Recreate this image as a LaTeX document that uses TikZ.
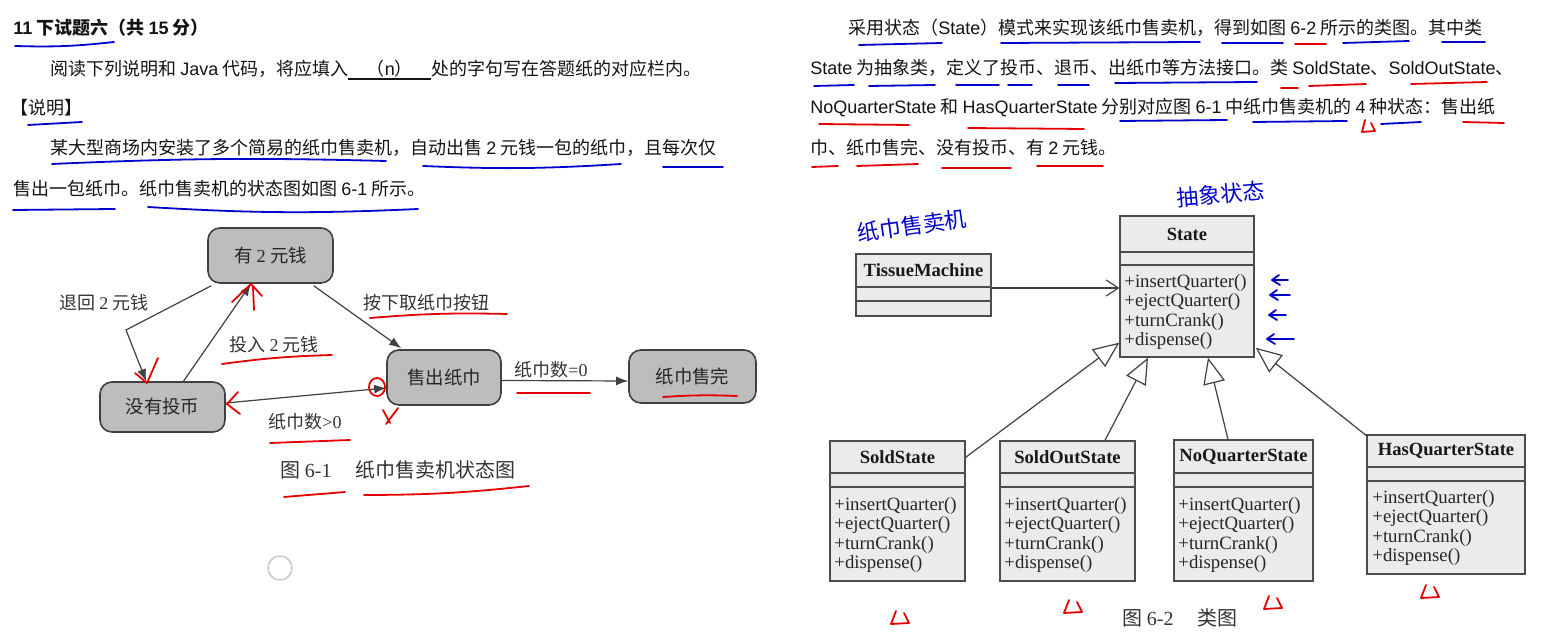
\documentclass[tikz,border=0pt]{standalone}
\usepackage{fontspec}
\setmainfont{Liberation Sans}
\newfontfamily\cjk{Noto Sans CJK SC}
\newfontfamily\lat{Liberation Sans}
\newfontfamily\tnr{Liberation Serif}
\usetikzlibrary{arrows.meta,calc,fit}
\newcommand\methlist[3]{%
  \node[meth] (#1m1) at (#2,#3) {+insertQuarter()};
  \node[meth] (#1m2) at (#2,#3+19.4) {+ejectQuarter()};
  \node[meth] (#1m3) at (#2,#3+38.8) {+turnCrank()};
  \node[meth] (#1m4) at (#2,#3+58.2) {+dispense()};}
\newcommand\umlclass[8]{%
  \node[clsbox, fit={(#2,#3) (#4,#5)}] (#1) {};
  \draw[clsline] (#2,#6) -- (#4,#6) (#2,#7) -- (#4,#7);
  \node[clstitle] (#1T) at ({(#2+#4)/2},{(#3+#6)/2}) {#8};}
\newcommand\redtri[2]{\draw[hred] (#1+5,#2) -- (#1,#2+13) -- (#1+18,#2+12) -- (#1+13,#2+2);}
\newcommand\bluearr[3]{\draw[hblue] (#1+#3,#2) -- (#1,#2) (#1+7,#2-5) -- (#1,#2) -- (#1+8,#2+5);}
\begin{document}
\begin{tikzpicture}[x=0.5pt,y=-0.5pt,
  body/.style={font=\cjk\fontsize{9}{11}\selectfont, anchor=west, inner sep=0pt, text=black!92},
  stbox/.style={draw=black!75, fill=black!26, rounded corners=6pt, line width=0.8pt, inner sep=0pt},
  sttext/.style={font=\cjk\fontsize{9.2}{11}\selectfont, text=black!85, inner sep=0pt},
  stlab/.style={font=\cjk\fontsize{9}{11}\selectfont, inner sep=0pt, text=black!80},
  trans/.style={draw=black!75, line width=0.6pt, -{Latex[length=6pt,width=4.5pt]}},
  clsbox/.style={draw=black!70, fill=black!8, line width=0.7pt, inner sep=0pt},
  clsline/.style={draw=black!70, line width=0.7pt},
  clstitle/.style={font=\tnr\bfseries\fontsize{9.3}{11}\selectfont, inner sep=0pt, text=black!90},
  meth/.style={font=\tnr\fontsize{9.4}{11}\selectfont, anchor=west, inner sep=0pt, text=black!85},
  gen/.style={draw=black!75, line width=0.6pt, -{Triangle[length=13pt,width=11pt,fill=white]}},
  assoc/.style={draw=black!75, line width=0.6pt, -{Straight Barb[length=6pt,width=8pt]}},
  hblue/.style={draw=blue!80!black, line width=0.9pt, line cap=round, line join=round},
  hred/.style={draw=red!90!black, line width=0.9pt, line cap=round, line join=round},
  hand/.style={font=\cjk\fontsize{11}{12}\selectfont, text=blue!80!black, inner sep=0pt}
]
\useasboundingbox[fill=white] (0,0) rectangle (1543,640);

% ---------------- left text ----------------
\node[body, font=\cjk\bfseries\fontsize{9}{11}\selectfont] (title) at (13,28) {{\lat\bfseries 11} 下试题六（共 {\lat\bfseries 15} 分）};
\node[body] (l2) at (50,70) {阅读下列说明和 {\lat Java} 代码，将应填入\rlap{\rule[-2.5pt]{41.5pt}{0.9pt}}\makebox[41.5pt]{（{\lat n}）}处的字句写在答题纸的对应栏内。};
\node[body] (l3) at (10,108) {【说明】};
\node[body] (l4) at (50,148) {某大型商场内安装了多个简易的纸巾售卖机，自动出售 {\lat 2} 元钱一包的纸巾，且每次仅};
\node[body] (l5) at (13,189) {售出一包纸巾。纸巾售卖机的状态图如图 {\lat 6-1} 所示。};

% ---------------- right text ----------------
\node[body] (r1) at (848,28) {采用状态（{\lat State}）模式来实现该纸巾售卖机，得到如图 {\lat 6-2} 所示的类图。其中类};
\node[body] (r2) at (810,68) {{\lat State} 为抽象类，定义了投币、退币、出纸巾等方法接口。类 {\lat SoldState}、{\lat SoldOutState}、};
\node[body] (r3) at (810,108) {{\lat NoQuarterState} 和 {\lat HasQuarterState} 分别对应图 {\lat 6-1} 中纸巾售卖机的 {\lat 4} 种状态：售出纸};
\node[body] (r4) at (810,148) {巾、纸巾售完、没有投币、有 {\lat 2} 元钱。};

% ---------------- state diagram ----------------
\node[stbox, fit={(208,228) (333,283)}] (has) {};
\node[stbox, fit={(100,382) (225,432)}] (noq) {};
\node[stbox, fit={(387,350) (501,405)}] (sold) {};
\node[stbox, fit={(629,350) (756,403)}] (out) {};
\node[sttext] (hasT) at (has.center) {有 {\tnr 2} 元钱};
\node[sttext] (noqT) at (noq.center) {没有投币};
\node[sttext] (soldT) at (sold.center) {售出纸巾};
\node[sttext] (outT) at (out.center) {纸巾售完};
\coordinate (elb) at (126,330);
\draw[trans] ($(has.south west)+(4,2)$) -- (elb) -- ($(noq.north west)+(47,0)$);
\draw[trans] ($(noq.north)+(21,0)$) -- ($(has.south)+(-19.5,0)$);
\draw[trans] ($(has.south east)+(-20,2)$) -- ($(sold.north west)+(15,-1)$);
\draw[trans] ($(sold.east)+(0,3)$) -- ($(out.west)+(0,4.5)$);
\draw[trans] ($(noq.east)+(0,-4)$) -- ($(sold.west)+(0,10.5)$);
\node[stlab] (lb1) at (104,303) {退回 {\tnr 2} 元钱};
\node[stlab] (lb2) at (274,345) {投入 {\tnr 2} 元钱};
\node[stlab] (lb3) at (426,303) {按下取纸巾按钮};
\node[stlab] (lb4) at (551,370) {纸巾数{\tnr =0}};
\node[stlab] (lb5) at (305,422) {纸巾数{\tnr >0}};
\node[stlab, anchor=west, font=\cjk\fontsize{10}{12}\selectfont] (cap1) at (280,470) {图 {\tnr 6-1}\hspace{12pt}纸巾售卖机状态图};

% ---------------- class diagram ----------------
\umlclass{tm}{856}{254}{991}{316}{287}{301}{TissueMachine}
\umlclass{st}{1120}{216}{1254}{357}{252}{265}{State}
\methlist{st}{1124}{283}
\umlclass{sc}{830}{441}{965}{581}{473}{487}{SoldState}
\methlist{sc}{834}{506}
\umlclass{soc}{1000}{441}{1135}{581}{473}{487}{SoldOutState}
\methlist{soc}{1004}{506}
\umlclass{nqc}{1174}{440}{1313}{581}{473}{487}{NoQuarterState}
\methlist{nqc}{1178}{506}
\umlclass{hqc}{1367}{435}{1525}{574}{467}{481}{HasQuarterState}
\methlist{hqc}{1372}{499}
\draw[assoc] ($(tm.east)+(0,3)$) -- ($(tm.east -| st.west)+(0,3)$);
\draw[gen] ($(sc.north east)+(0,17)$) -- ($(st.south west)+(0,-15)$);
\draw[gen] ($(soc.north)+(37.5,0)$) -- ($(st.south)+(-39,0)$);
\draw[gen] ($(nqc.north)+(-15.5,0)$) -- ($(st.south)+(21,0)$);
\draw[gen] ($(hqc.north west)+(1,2)$) -- ($(st.south east)+(1,-10)$);
\node[stlab, anchor=west, font=\cjk\fontsize{10}{12}\selectfont] (cap2) at (1122,618) {图 {\tnr 6-2}\hspace{12pt}类图};

% ---------------- handwritten notes ----------------
\draw[hblue] (15,46) to[bend right=4] (114,42);
\draw[hblue] (28,125) -- (82,122);
\draw[hblue] (52,164) to[bend left=2] (386,161);
\draw[hblue] (423,166) to[bend right=3] (621,164);
\draw[hblue] (663,167) -- (723,167);
\draw[hblue] (13,210) -- (115,209);
\draw[hblue] (148,207) to[bend right=3] (418,209);
\draw[hblue] (859,45) -- (942,43);
\draw[hblue] (1001,43) -- (1200,42);
\draw[hblue] (1222,43) -- (1283,43);
\draw[hblue] (1343,43) -- (1409,41);
\draw[hblue] (1442,42) -- (1485,42);
\draw[hred] (1295,44) -- (1326,44);
\draw[hblue] (814,86) -- (854,85);
\draw[hblue] (869,86) -- (935,85);
\draw[hblue] (956,85) -- (999,85);
\draw[hblue] (1008,85) -- (1032,85);
\draw[hblue] (1058,85) -- (1089,85);
\draw[hblue] (1115,83) -- (1257,82);
\draw[hred] (1281,88) -- (1298,88);
\draw[hred] (1309,86) -- (1366,84);
\draw[hred] (1411,84) -- (1487,82);
\draw[hred] (819,124) -- (909,125);
\draw[hred] (968,128) -- (1084,129);
\draw[hblue] (1120,121) -- (1227,120);
\draw[hblue] (1253,122) -- (1347,121);
\draw[hblue] (1381,124) -- (1421,122);
\draw[hred] (1463,122) -- (1504,123);
\draw[hred] (812,167) -- (838,166);
\draw[hred] (857,166) -- (918,164);
\draw[hred] (942,168) -- (1011,168);
\draw[hred] (1037,166) -- (1103,166);
\draw[hred] (1365,120) -- (1362,132) -- (1375,131) -- (1371,123);
\draw[hred] (370,318) to[bend left=3] (507,314);
\draw[hred] (222,364) to[bend left=3] (332,355);
\draw[hred] (517,393) -- (590,393);
\draw[hred] (663,397) to[bend left=3] (737,396);
\draw[hred] (270,443) -- (350,440);
\draw[hred] (284,497) -- (345,492);
\draw[hred] (364,495) to[bend right=3] (529,486);
\draw[hred] (232,302) -- (251,284) -- (262,296);
\draw[hred] (253,287) -- (254,310);
\draw[hred] (135,373) -- (147,383) -- (158,358);
\draw[hred] (238,392) -- (227,404) -- (240,414);
\draw[hred] (377,387) ellipse [x radius=8, y radius=9];
\draw[hred] (383,410) -- (390,423) (398,408) -- (386,424);
\node[hand, rotate=8] (hw1) at (912,226) {纸巾售卖机};
\node[hand, rotate=5] (hw2) at (1221,194) {抽象状态};
\bluearr{1272}{280}{16}
\bluearr{1270}{295}{20}
\bluearr{1269}{315}{17}
\bluearr{1267}{339}{27}
\redtri{891}{611}
\redtri{1064}{600}
\redtri{1264}{596}
\redtri{1421}{585}
\draw[black!20, line width=0.8pt] (280,568) circle[radius=12];
\end{tikzpicture}
\end{document}
